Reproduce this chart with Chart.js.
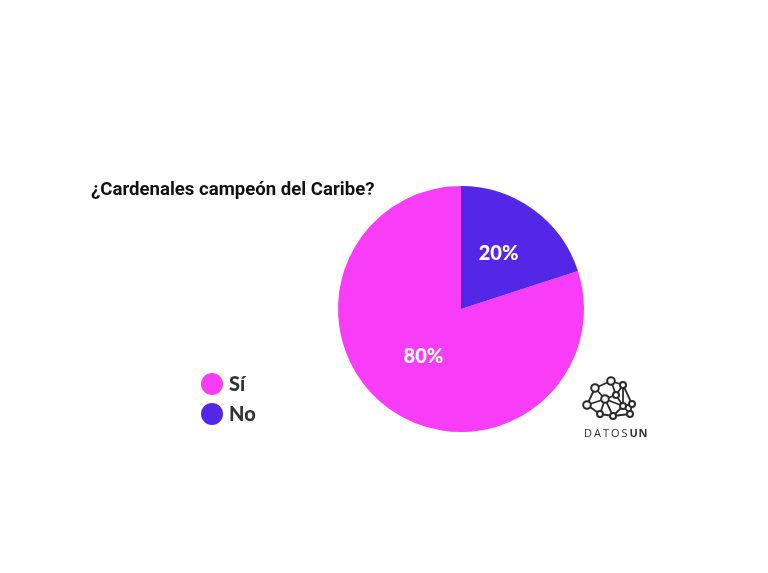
<!DOCTYPE html>
<html>
<head>
<meta charset="utf-8">
<script src="https://cdn.jsdelivr.net/npm/chart.js@4"></script>
<style>
  html, body { margin: 0; padding: 0; background: #fff; }
  #wrap { width: 768px; height: 573px; position: relative; }
</style>
</head>
<body>
<div id="wrap"><canvas id="myChart" width="768" height="573"></canvas></div>
<script>
const chartTitle = '¿Cardenales campeón del Caribe?';
const categories = ['Sí', 'No'];
const values = [80, 20];
const colors = ['#F83CF8', '#5427E8'];

// slice labels drawn at the middle of every arc
const sliceLabels = {
  id: 'sliceLabels',
  afterDatasetsDraw(chart) {
    const c = chart.ctx;
    const meta = chart.getDatasetMeta(0);
    const total = values.reduce((a, b) => a + b, 0);
    c.save();
    c.font = '900 20px Lato';
    c.fillStyle = '#fff';
    c.textAlign = 'center';
    c.textBaseline = 'middle';
    meta.data.forEach((arc, i) => {
      const mid = (arc.startAngle + arc.endAngle) / 2;
      const r = arc.outerRadius * 0.52;
      const x = arc.x + Math.cos(mid) * r;
      const y = arc.y + Math.sin(mid) * r - 4;
      c.fillText(Math.round(values[i] / total * 100) + '%', x, y);
    });
    c.restore();
  }
};

// title, legend and logo
const extras = {
  id: 'extras',
  afterDraw(chart) {
    const c = chart.ctx;
    c.save();
    c.font = 'bold 18.6px Roboto';
    c.fillStyle = '#111';
    c.textBaseline = 'alphabetic';
    c.fillText(chartTitle, 91, 195);

    categories.forEach((name, i) => {
      const y = 384 + i * 30;
      c.beginPath();
      c.arc(212, y, 11, 0, Math.PI * 2);
      c.fillStyle = colors[i];
      c.fill();
      c.font = '900 20px Lato';
      c.fillStyle = '#333';
      c.textBaseline = 'middle';
      c.fillText(name, 229, y + 1);
    });

    drawLogo(c);
    c.restore();
  }
};

function drawLogo(c) {
  const n = {
    A: [595, 388], B: [611, 381], C: [623, 385], D: [587, 405],
    E: [605, 399], F: [616, 395], G: [623, 406], H: [632, 404],
    I: [600, 414], J: [613, 416], K: [630, 414]
  };
  const edges = ['AB', 'BC', 'AD', 'AE', 'BF', 'CF', 'CG', 'CH', 'DE', 'DI',
    'EF', 'EI', 'EJ', 'EG', 'FG', 'GH', 'GJ', 'GK', 'HK', 'IJ', 'JK'];
  c.strokeStyle = '#2b2b2b';
  c.lineWidth = 1.8;
  edges.forEach(e => {
    c.beginPath();
    c.moveTo(n[e[0]][0], n[e[0]][1]);
    c.lineTo(n[e[1]][0], n[e[1]][1]);
    c.stroke();
  });
  Object.keys(n).forEach(k => {
    const big = 'ABDE'.includes(k);
    c.beginPath();
    c.arc(n[k][0], n[k][1], big ? 3.8 : 3, 0, Math.PI * 2);
    c.fillStyle = '#fff';
    c.fill();
    c.lineWidth = 2;
    c.stroke();
  });

  c.textBaseline = 'alphabetic';
  c.fillStyle = '#333';
  c.font = '11px "Open Sans"';
  let x = 584;
  'DATOS'.split('').forEach(ch => {
    c.fillText(ch, x, 437);
    x += c.measureText(ch).width + 2;
  });
  c.font = 'bold 11px "Open Sans"';
  'UN'.split('').forEach(ch => {
    c.fillText(ch, x, 437);
    x += c.measureText(ch).width + 0.5;
  });
}

const ctx = document.getElementById('myChart').getContext('2d');
new Chart(ctx, {
  type: 'pie',
  data: {
    labels: categories,
    datasets: [{
      data: values,
      backgroundColor: colors,
      borderWidth: 0
    }]
  },
  options: {
    responsive: false,
    animation: false,
    rotation: 72,
    layout: { padding: { left: 338, right: 184, top: 186, bottom: 141 } },
    plugins: {
      legend: { display: false },
      tooltip: { enabled: false },
      title: { display: false }
    }
  },
  plugins: [sliceLabels, extras]
});
</script>
</body>
</html>
